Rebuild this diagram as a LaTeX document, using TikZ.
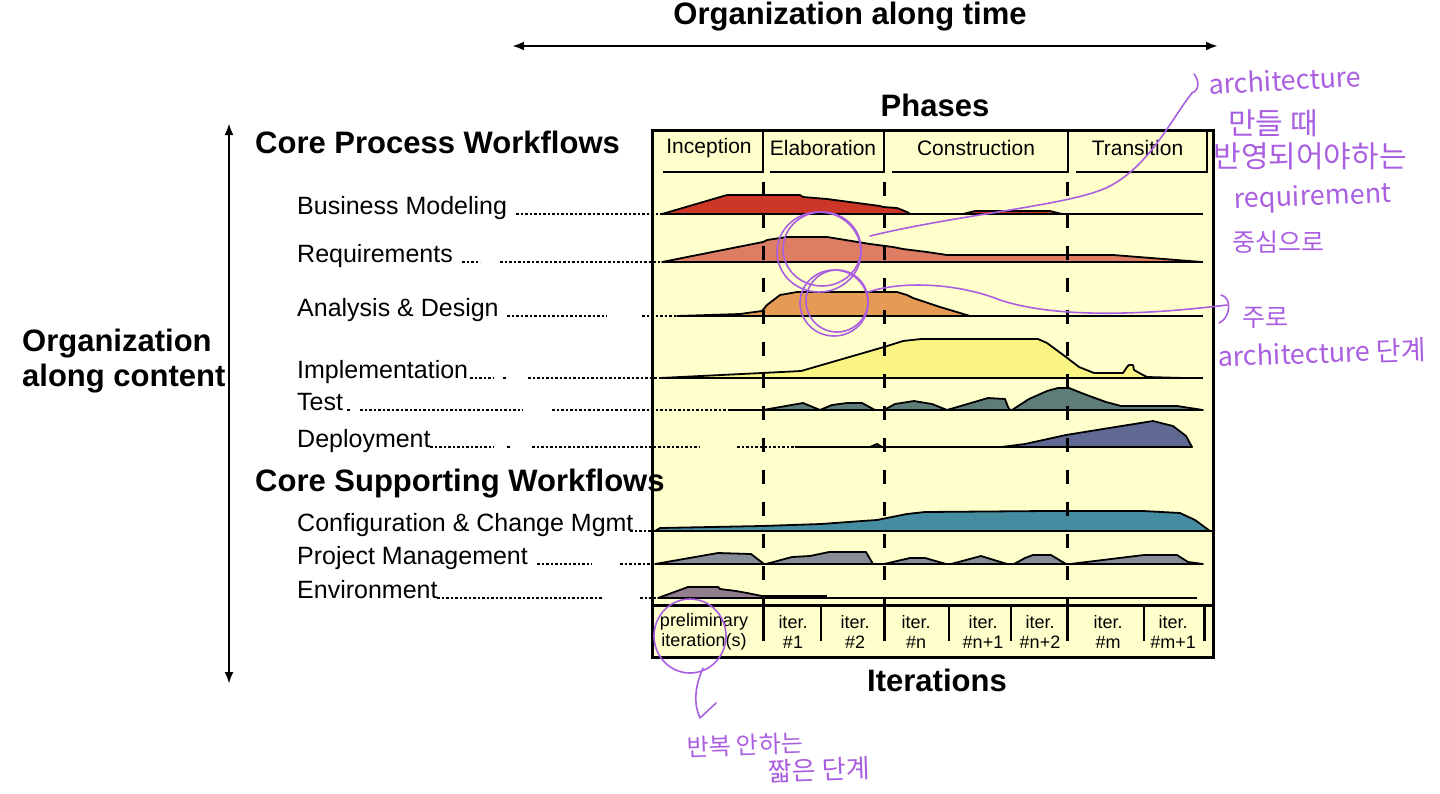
\documentclass[tikz,border=0pt]{standalone}
\usepackage{fontspec}
\setmainfont{Liberation Sans}
\newfontfamily\hangul{Noto Sans CJK KR}
\usetikzlibrary{arrows.meta}
\definecolor{BoxFill}{RGB}{255,255,204}
\definecolor{BizFill}{RGB}{205,55,40}
\definecolor{ReqFill}{RGB}{220,125,100}
\definecolor{AndFill}{RGB}{230,155,85}
\definecolor{ImpFill}{RGB}{250,245,130}
\definecolor{TstFill}{RGB}{95,125,120}
\definecolor{DepFill}{RGB}{95,105,145}
\definecolor{CfgFill}{RGB}{70,140,160}
\definecolor{PrjFill}{RGB}{135,140,150}
\definecolor{EnvFill}{RGB}{145,125,140}
\definecolor{PenInk} {RGB}{170,95,225}
\tikzset{
  hd_big/.style={font=\fontsize{31}{35}\selectfont\bfseries, inner sep=0pt},
  wf_lbl/.style={font=\fontsize{25}{27}\selectfont, anchor=base west, inner sep=0pt},
  ph_lbl/.style={font=\fontsize{21}{23}\selectfont, inner sep=0pt},
  it_lbl/.style={font=\fontsize{18}{20}\selectfont, align=center, inner sep=0pt},
  wf_area/.style={draw=black, line width=1.8pt, line join=round},
  base_ln/.style={line width=2.4pt},
  cell_ln/.style={line width=2.6pt},
  lead_dot/.style={line width=2pt, dash pattern=on 2.5pt off 2pt},
  ph_dash/.style={line width=3pt, dash pattern=on 14pt off 18pt},
  sep_thk/.style={line width=3pt},
  sep_thn/.style={line width=2pt},
  axis_arr/.style={{Latex[length=12pt,width=9pt]}-{Latex[length=12pt,width=9pt]}, line width=2.4pt},
  pen/.style={draw=PenInk, line width=1.6pt, line cap=round, line join=round},
  pen_txt/.style={text=PenInk, font=\hangul\fontsize{27}{29}\selectfont, inner sep=0pt},
  pen_sz/.style={font=\hangul\fontsize{#1}{#1}\selectfont},
}
\newcommand{\wfrow}[5]{%
  \node[wf_lbl] (#1) at (297,#2) {#5};
  \draw[base_ln] (#3,#2) -- (#4,#2);
}

\begin{document}
\begin{tikzpicture}[x=1pt,y=-1pt]
\useasboundingbox (0,0) rectangle (1440,793);
\fill[white] (0,0) rectangle (1440,793);

%% axes
\node[hd_big] (tTime) at (850,17) {Organization along time};
\coordinate (tL) at (512,46); \coordinate (tR) at (1218,46);
\draw[axis_arr] (tL) -- (tR);
\coordinate (cT) at (229,123); \coordinate (cB) at (229,684);
\draw[axis_arr] (cT) -- (cB);
\node[hd_big, align=left, anchor=west] (tCont) at (22,361) {Organization\\along content};
\node[hd_big] (tPh) at (935,105) {Phases};
\node[hd_big] (tIt) at (937,680) {Iterations};
\node[hd_big, anchor=base west] (tCore) at (255,153) {Core Process Workflows};

%% box + phase header
\fill[BoxFill] (652,130) rectangle (1213,657);
\foreach \xa/\xb/\nm/\tx in {663/763/hInc/Inception, 770/884/hEla/Elaboration,
                             892/1068/hCon/Construction, 1076/1207/hTra/Transition}
  {\draw[cell_ln] (\xa,172) -- (\xb,172) -- (\xb,130);
   \node[ph_lbl] (\nm) at ({(\xa+\xb)/2-4},148) {\tx};}

%% core process workflows
\filldraw[wf_area, fill=BizFill] (662,214) -- (727,195) -- (800,195) -- (803,197) -- (827,199) -- (880,206)
  -- (883,207) -- (897,208) -- (907,212) -- (910,214) -- cycle;
\filldraw[wf_area, fill=BizFill] (963,214) -- (975,211) -- (1050,211) -- (1062,214) -- cycle;
\filldraw[wf_area, fill=ReqFill] (662,262) -- (763,242) -- (767,240) -- (787,237) -- (827,237) -- (870,244)
  -- (893,247) -- (903,249) -- (927,252) -- (947,255) -- (1113,255) -- (1202,262) -- cycle;
\filldraw[wf_area, fill=AndFill] (677,316) -- (740,314) -- (762,311) -- (767,305) -- (780,295) -- (797,292)
  -- (897,292) -- (907,295) -- (913,298) -- (940,307) -- (970,316) -- cycle;
\filldraw[wf_area, fill=ImpFill] (660,378) -- (762,373) -- (801,371) -- (884,347) -- (903,341) -- (921,339)
  -- (1038,339) -- (1047,343) -- (1066,357) -- (1079,367) -- (1094,373) -- (1123,373) -- (1127,367)
  -- (1129,365) -- (1133,365) -- (1134,370) -- (1143,375) -- (1147,377) -- (1184,378) -- cycle;
\filldraw[wf_area, fill=TstFill] (763,410) -- (803,403) -- (820,410) -- cycle;
\filldraw[wf_area, fill=TstFill] (820,410) -- (832,405) -- (847,403) -- (862,403) -- (875,410) -- cycle;
\filldraw[wf_area, fill=TstFill] (884,410) -- (895,404) -- (914,401) -- (932,404) -- (947,410) -- cycle;
\filldraw[wf_area, fill=TstFill] (947,410) -- (988,398) -- (1005,399) -- (1008,407) -- (1010,410) -- cycle;
\filldraw[wf_area, fill=TstFill] (1012,410) -- (1029,399) -- (1047,391) -- (1058,388) -- (1069,388)
  -- (1084,394) -- (1106,402) -- (1121,406) -- (1177,406) -- (1203,410) -- cycle;
\filldraw[wf_area, fill=DepFill] (870,447) -- (877,444) -- (882,447) -- cycle;
\filldraw[wf_area, fill=DepFill] (1001,447) -- (1025,444) -- (1066,435) -- (1103,429) -- (1153,421)
  -- (1173,426) -- (1186,436) -- (1192,447) -- cycle;

%% core supporting workflows
\filldraw[wf_area, fill=CfgFill] (655,531) -- (660,528) -- (762,526) -- (821,524) -- (862,521) -- (877,520)
  -- (892,517) -- (907,514) -- (925,512) -- (1047,511) -- (1143,511) -- (1180,513) -- (1195,520)
  -- (1210,531) -- cycle;
\filldraw[wf_area, fill=PrjFill] (655,564) -- (718,553) -- (751,554) -- (764,564) -- cycle;
\filldraw[wf_area, fill=PrjFill] (766,564) -- (792,557) -- (810,556) -- (829,552) -- (866,552) -- (873,564) -- cycle;
\filldraw[wf_area, fill=PrjFill] (884,564) -- (910,558) -- (925,558) -- (946,564) -- cycle;
\filldraw[wf_area, fill=PrjFill] (951,564) -- (981,556) -- (1007,564) -- cycle;
\filldraw[wf_area, fill=PrjFill] (1014,564) -- (1025,558) -- (1033,555) -- (1051,555) -- (1066,564) -- cycle;
\filldraw[wf_area, fill=PrjFill] (1070,564) -- (1144,555) -- (1177,555) -- (1188,562) -- (1203,564) -- cycle;
\filldraw[wf_area, fill=EnvFill] (658,598) -- (688,587) -- (718,587) -- (720,589) -- (736,591) -- (747,593)
  -- (762,596) -- (773,598) -- cycle;
\draw[line width=3.6pt] (762,597) -- (827,597);

\wfrow{lBiz}{214}{662}{1203}{Business Modeling}
\wfrow{lReq}{262}{662}{1203}{Requirements}
\wfrow{lAnd}{316}{677}{1203}{Analysis \& Design}
\wfrow{lImp}{378}{660}{1203}{Implementation}
\wfrow{lTst}{410}{729}{1203}{Test}
\wfrow{lDep}{447}{795}{1192}{Deployment}
\wfrow{lCfg}{531}{655}{1213}{Configuration \& Change Mgmt}
\wfrow{lPrj}{564}{655}{1203}{Project Management}
\wfrow{lEnv}{598}{658}{1197}{Environment}

%% dotted leaders
\foreach \xa/\xb/\yy in {516/662/214, 462/480/262, 500/662/262, 507/607/316, 642/677/316,
    470/494/378, 503/507/378, 528/660/378, 347/351/410, 360/523/410, 552/729/410,
    430/494/447, 507/511/447, 532/700/447, 737/795/447, 630/655/531,
    537/592/564, 620/655/564, 437/603/598, 640/658/598}
  {\draw[lead_dot] (\xa,\yy) -- (\xb,\yy);}

%% phase borders
\foreach \xp in {763,884,1067}
  {\draw[ph_dash] (\xp,182) -- (\xp,605);}

%% iterations strip
\draw[sep_thk] (652,605) -- (1213,605);
\foreach \xs in {763,884,1067,1204} {\draw[sep_thk] (\xs,605) -- (\xs,641);}
\foreach \xs in {821,949,1011,1144} {\draw[sep_thn] (\xs,605) -- (\xs,641);}
\node[it_lbl] (iPre) at (704,632) {preliminary\\iteration(s)};
\foreach \xc/\nm/\tx in {793/i1/\#1, 855/i2/\#2, 916/iN/\#n, 983/iN1/\#n+1,
                         1040/iN2/\#n+2, 1108/iM/\#m, 1173/iM1/\#m+1}
  {\node[it_lbl] (\nm) at (\xc,632) {iter.\\\tx};}
\draw[line width=3pt] (652,130) rectangle (1213,657);
\node[hd_big, anchor=base west] (tSup) at (255,491) {Core Supporting Workflows};

%% pen notes
\draw[pen] (819,252) ellipse [x radius=42, y radius=40];
\draw[pen] (822,249) ellipse [x radius=39, y radius=37];
\draw[pen] (834,303) ellipse [x radius=34, y radius=33];
\draw[pen] (837,301) ellipse [x radius=31, y radius=31];
\coordinate (pA) at (870,236); \coordinate (pB) at (1192,93);
\draw[pen] (pA) .. controls (960,214) and (1075,205) .. (1110,186) .. controls (1150,165) and (1172,118) .. (pB)
  .. controls (1200,90) and (1199,80) .. (1194,74);
\coordinate (pC) at (868,292); \coordinate (pD) at (1227,305);
\draw[pen] (pC) .. controls (905,280) and (960,284) .. (1000,300) .. controls (1045,315) and (1120,318) .. (pD);
\draw[pen] (1221,295) .. controls (1232,297) and (1231,318) .. (1219,323);
\draw[pen] (690,636) ellipse [x radius=36, y radius=37];
\coordinate (pE) at (703,668); \coordinate (pF) at (700,718);
\draw[pen] (pE) .. controls (694,688) and (694,705) .. (pF) -- (716,703);

\node[pen_txt, rotate=3] (nArc) at (1285,80) {architecture};
\node[pen_txt, pen_sz=30] (nMak) at (1273,123) {만들 때};
\node[pen_txt, pen_sz=30] (nBan) at (1310,156) {반영되어야하는};
\node[pen_txt, rotate=2] (nReq) at (1313,198) {requirement};
\node[pen_txt, pen_sz=25] (nCen) at (1278,242) {중심으로};
\node[pen_txt, pen_sz=25] (nJur) at (1265,318) {주로};
\node[pen_txt, rotate=2] (nArc2) at (1322,353) {architecture 단계};
\node[pen_txt, pen_sz=24, rotate=2] (nRep) at (745,745) {반복 안하는};
\node[pen_txt, pen_sz=26, rotate=2] (nSho) at (819,770) {짧은 단계};

\end{tikzpicture}
\end{document}
